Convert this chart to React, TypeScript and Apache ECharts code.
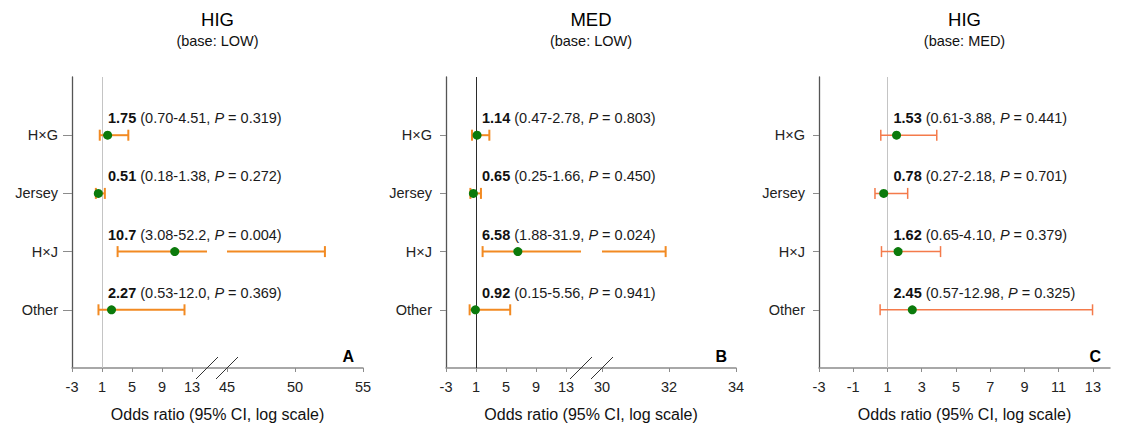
import React, { useEffect, useRef } from 'react';
import * as echarts from 'echarts';

// Breeds, top to bottom
const categories = ['H×G', 'Jersey', 'H×J', 'Other'];

// A: HIG (base: LOW)
const orA = ['1.75', '0.51', '10.7', '2.27'];
const loA = ['0.70', '0.18', '3.08', '0.53'];
const hiA = ['4.51', '1.38', '52.2', '12.0'];
const pA = ['0.319', '0.272', '0.004', '0.369'];

// B: MED (base: LOW)
const orB = ['1.14', '0.65', '6.58', '0.92'];
const loB = ['0.47', '0.25', '1.88', '0.15'];
const hiB = ['2.78', '1.66', '31.9', '5.56'];
const pB = ['0.803', '0.450', '0.024', '0.941'];

// C: HIG (base: MED)
const orC = ['1.53', '0.78', '1.62', '2.45'];
const loC = ['0.61', '0.27', '0.65', '0.57'];
const hiC = ['3.88', '2.18', '4.10', '12.98'];
const pC = ['0.441', '0.701', '0.379', '0.325'];

// Tick labels of each axis segment
const ticksLowA = [-3, 1, 5, 9, 13];
const ticksHighA = [45, 50, 55];
const ticksLowB = [-3, 1, 5, 9, 13];
const ticksHighB = [30, 32, 34];
const ticksC = [-3, -1, 1, 3, 5, 7, 9, 11, 13];

const FONT = '"Liberation Sans", Arial, Helvetica, sans-serif';
const TOP = 77;
const H = 291;
const AXIS_NAME = 'Odds ratio (95% CI, log scale)';

type Seg = { min: number; max: number; left: number; width: number; ticks: number[] };
type Panel = {
  title: string;
  base: string;
  letter: string;
  or: string[];
  lo: string[];
  hi: string[];
  p: string[];
  left: number;
  width: number;
  tickLen: number;
  refColor: string;
  barColor: string;
  barWidth: number;
  segs: Seg[];
};

const panels: Panel[] = [
  {
    title: 'HIG', base: '(base: LOW)', letter: 'A',
    or: orA, lo: loA, hi: hiA, p: pA,
    left: 72, width: 291, tickLen: 9,
    refColor: '#c4c4c4', barColor: '#f28a22', barWidth: 2,
    segs: [
      { min: -3, max: 15, left: 72, width: 135, ticks: ticksLowA },
      { min: 45, max: 55, left: 227, width: 136, ticks: ticksHighA },
    ],
  },
  {
    title: 'MED', base: '(base: LOW)', letter: 'B',
    or: orB, lo: loB, hi: hiB, p: pB,
    left: 446, width: 290, tickLen: 6,
    refColor: '#2b2b2b', barColor: '#f28a22', barWidth: 2,
    segs: [
      { min: -3, max: 15, left: 446, width: 135, ticks: ticksLowB },
      { min: 30, max: 34, left: 602, width: 134, ticks: ticksHighB },
    ],
  },
  {
    title: 'HIG', base: '(base: MED)', letter: 'C',
    or: orC, lo: loC, hi: hiC, p: pC,
    left: 819, width: 291, tickLen: 6,
    refColor: '#c4c4c4', barColor: '#f47a4a', barWidth: 1.5,
    segs: [{ min: -3, max: 14, left: 819, width: 291, ticks: ticksC }],
  },
];

// bottom-to-top category slots, with an empty slot at each end
const yData = ['', ...[...categories].reverse(), ''];

function buildOption() {
  const grid: any[] = [];
  const xAxis: any[] = [];
  const yAxis: any[] = [];
  const series: any[] = [];
  const graphic: any[] = [];

  const xLine = { show: true, onZero: false, lineStyle: { color: '#8c8c8c', width: 1.5 } };
  const nameOpts = {
    name: AXIS_NAME,
    nameLocation: 'middle',
    nameGap: 38,
    nameTextStyle: { fontSize: 16, fontFamily: FONT, color: '#111' },
  };
  const catAxis = (gi: number, pn: Panel) => ({
    gridIndex: gi,
    type: 'category',
    data: yData,
    boundaryGap: false,
    axisLine: { show: true, onZero: false, lineStyle: { color: '#555', width: 1.3 } },
    axisTick: {
      show: true,
      length: pn.tickLen,
      interval: (_i: number, v: string) => v !== '',
      lineStyle: { color: '#8c8c8c', width: 1 },
    },
    axisLabel: {
      interval: (_i: number, v: string) => v !== '',
      margin: 14,
      fontSize: 14.5,
      fontFamily: FONT,
      color: '#222',
    },
    splitLine: { show: false },
  });

  panels.forEach((pn) => {
    const broken = pn.segs.length > 1;

    if (broken) {
      // frame grid: category axis and one continuous x-axis line under both segments
      const gi = grid.length;
      grid.push({ left: pn.left, top: TOP, width: pn.width, height: H });
      yAxis.push(catAxis(gi, pn));
      xAxis.push({
        gridIndex: gi,
        type: 'value',
        min: 0,
        max: 1,
        axisLine: xLine,
        axisTick: { show: false },
        axisLabel: { show: false },
        splitLine: { show: false },
        ...nameOpts,
      });
    }

    pn.segs.forEach((sg, si) => {
      const gi = grid.length;
      grid.push({ left: sg.left, top: TOP, width: sg.width, height: H });
      yAxis.push(
        broken
          ? { gridIndex: gi, type: 'category', data: yData, boundaryGap: false, show: false }
          : catAxis(gi, pn)
      );
      xAxis.push({
        gridIndex: gi,
        type: 'value',
        min: sg.min,
        max: sg.max,
        axisLine: broken ? { show: false, onZero: false } : xLine,
        axisTick: {
          show: true,
          customValues: sg.ticks,
          length: 4,
          lineStyle: { color: '#8c8c8c', width: 1 },
        },
        axisLabel: {
          customValues: sg.ticks,
          margin: 11,
          fontSize: 14.5,
          fontFamily: FONT,
          color: '#222',
        },
        splitLine: { show: false },
        ...(broken ? {} : nameOpts),
      });

      // 95% CI bars, cut at this segment's extent
      series.push({
        type: 'custom',
        xAxisIndex: gi,
        yAxisIndex: gi,
        z: 3,
        encode: { x: [0, 1], y: 2 },
        data: categories.map((c, i) => [Number(pn.lo[i]), Number(pn.hi[i]), yData.indexOf(c)]),
        renderItem: (_params: any, api: any) => {
          const lo = api.value(0);
          const hi = api.value(1);
          const yi = api.value(2);
          if (hi < sg.min || lo > sg.max) return null;
          const a = Math.max(lo, sg.min);
          const b = Math.min(hi, sg.max);
          const p1 = api.coord([a, yi]);
          const p2 = api.coord([b, yi]);
          const style = { stroke: pn.barColor, lineWidth: pn.barWidth };
          const children: any[] = [
            { type: 'line', shape: { x1: p1[0], y1: p1[1], x2: p2[0], y2: p2[1] }, style },
          ];
          const cap = 5.5;
          if (lo >= sg.min) {
            children.push({ type: 'line', shape: { x1: p1[0], y1: p1[1] - cap, x2: p1[0], y2: p1[1] + cap }, style });
          }
          if (hi <= sg.max) {
            children.push({ type: 'line', shape: { x1: p2[0], y1: p2[1] - cap, x2: p2[0], y2: p2[1] + cap }, style });
          }
          return { type: 'group', children };
        },
      });

      if (si === 0) {
        // odds ratio points and the reference line at 1
        series.push({
          type: 'scatter',
          xAxisIndex: gi,
          yAxisIndex: gi,
          z: 5,
          symbol: 'circle',
          symbolSize: 9,
          itemStyle: { color: '#0b7a0b', opacity: 1 },
          data: categories.map((c, i) => [Number(pn.or[i]), c]),
          markLine: {
            silent: true,
            symbol: ['none', 'none'],
            label: { show: false },
            z: 1,
            lineStyle: { color: pn.refColor, width: 1, type: 'solid' },
            data: [{ xAxis: 1 }],
          },
        });

        // value labels above each row
        series.push({
          type: 'custom',
          xAxisIndex: gi,
          yAxisIndex: gi,
          z: 6,
          encode: { x: 0, y: 1 },
          data: categories.map((c, i) => [Number(pn.or[i]), yData.indexOf(c), i]),
          renderItem: (_params: any, api: any) => {
            const yi = api.value(1);
            const k = api.value(2);
            const pos = api.coord([1, yi]);
            const txt = `{b|${pn.or[k]}} (${pn.lo[k]}-${pn.hi[k]}, {i|P} = ${pn.p[k]})`;
            return {
              type: 'text',
              x: pos[0] + 6,
              y: pos[1] - 17,
              style: {
                text: txt,
                fill: '#1a1a1a',
                fontSize: 14.5,
                fontFamily: FONT,
                align: 'left',
                verticalAlign: 'middle',
                rich: {
                  b: { fontWeight: 'bold', fontSize: 14.5, fontFamily: FONT, fill: '#111' },
                  i: { fontStyle: 'italic', fontSize: 14.5, fontFamily: FONT, fill: '#1a1a1a' },
                },
              },
            };
          },
        });
      }
    });

    // axis-break marks
    if (broken) {
      const yAx = TOP + H;
      const cuts = [pn.segs[0].left + pn.segs[0].width, pn.segs[1].left];
      cuts.forEach((cx) => {
        graphic.push({
          type: 'line',
          shape: { x1: cx - 11, y1: yAx + 11, x2: cx + 11, y2: yAx - 11 },
          style: { stroke: '#333', lineWidth: 1 },
          z: 10,
        });
      });
    }

    const cx = pn.left + pn.width / 2;
    graphic.push({
      type: 'text',
      x: cx,
      y: 19,
      style: { text: pn.title, fontSize: 18.5, fontFamily: FONT, fill: '#000', align: 'center', verticalAlign: 'middle' },
    });
    graphic.push({
      type: 'text',
      x: cx,
      y: 41,
      style: { text: pn.base, fontSize: 14.5, fontFamily: FONT, fill: '#111', align: 'center', verticalAlign: 'middle' },
    });
    graphic.push({
      type: 'text',
      x: pn.left + pn.width - 9,
      y: TOP + H - 12,
      style: {
        text: pn.letter,
        fontSize: 16,
        fontWeight: 'bold',
        fontFamily: FONT,
        fill: '#000',
        align: 'right',
        verticalAlign: 'middle',
      },
    });
  });

  return {
    animation: false,
    backgroundColor: '#ffffff',
    grid,
    xAxis,
    yAxis,
    series,
    graphic,
  };
}

export default function App() {
  const ref = useRef<HTMLDivElement>(null);
  useEffect(() => {
    if (!ref.current) return;
    const chart = echarts.init(ref.current, undefined, { renderer: 'svg' });
    chart.setOption(buildOption() as any);
    return () => chart.dispose();
  }, []);
  return (
    <div
      ref={ref}
      style={{ position: 'absolute', left: 0, top: 0, width: 1130, height: 430, background: '#fff' }}
    />
  );
}
